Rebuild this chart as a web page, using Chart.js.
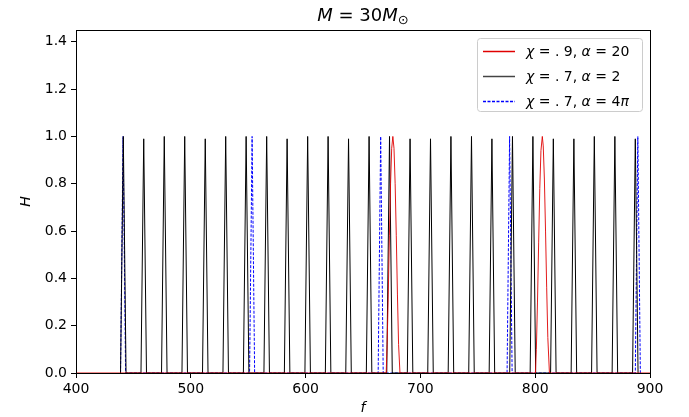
<!DOCTYPE html>
<html>
<head>
<meta charset="utf-8">
<script src="https://cdn.jsdelivr.net/npm/chart.js@4.4.0/dist/chart.umd.min.js"></script>
<style>
  html, body { margin: 0; padding: 0; background: #fff; }
  #wrap { width: 689px; height: 417px; }
</style>
</head>
<body>
<div id="wrap"><canvas id="resChart" width="689" height="417"></canvas></div>
<script>
// chi = .9, alpha = 20  (red)
const redF = [400, 670.2, 671, 672, 673, 674, 675, 676, 677, 678, 679, 680, 681, 682.2,
              800.2, 801, 802, 803, 804, 805, 806.2, 807, 808, 809, 810, 811, 812.4, 900];
const redH = [0, 0, 0.12, 0.33, 0.58, 0.8, 0.95, 1.0, 0.95, 0.8, 0.58, 0.33, 0.12, 0,
              0, 0.1, 0.3, 0.55, 0.78, 0.94, 1.0, 0.96, 0.82, 0.6, 0.36, 0.15, 0, 0];

// chi = .7, alpha = 2  (black)
const blackF = [
  438.8, 441.2, 443.6, 456.6, 459.0, 461.4, 474.5, 476.9, 479.3, 492.3, 494.7, 497.1,
  510.2, 512.6, 515.0, 528.0, 530.4, 532.8, 545.8, 548.2, 550.6, 563.7, 566.1, 568.5,
  581.5, 583.9, 586.3, 599.4, 601.8, 604.2, 617.2, 619.6, 622.0, 635.0, 637.4, 639.8,
  652.9, 655.3, 657.7, 670.7, 673.1, 675.5, 688.6, 691.0, 693.4, 706.4, 708.8, 711.2,
  724.2, 726.6, 729.0, 742.1, 744.5, 746.9, 759.9, 762.3, 764.7, 777.8, 780.2, 782.6,
  795.6, 798.0, 800.4, 813.4, 815.8, 818.2, 831.3, 833.7, 836.1, 849.1, 851.5, 853.9,
  867.0, 869.4, 871.8, 884.8, 887.2, 889.6
];
const blackH = [
  0, 1.0, 0, 0, 0.99, 0, 0, 1.0, 0, 0, 1.0, 0,
  0, 0.99, 0, 0, 1.0, 0, 0, 1.0, 0, 0, 1.0, 0,
  0, 0.99, 0, 0, 1.0, 0, 0, 1.0, 0, 0, 0.99, 0,
  0, 1.0, 0, 0, 1.0, 0, 0, 0.99, 0, 0, 0.99, 0,
  0, 1.0, 0, 0, 1.0, 0, 0, 0.99, 0, 0, 1.0, 0,
  0, 1.0, 0, 0, 0.99, 0, 0, 0.99, 0, 0, 1.0, 0,
  0, 1.0, 0, 0, 0.99, 0
];

// chi = .7, alpha = 4 pi  (blue dashed)
const blueF = [438.8, 441.0, 443.2, 551.2, 553.4, 555.6, 663.2, 665.4, 667.6,
               775.5, 777.7, 779.9, 887.2, 889.4, 891.6];
const blueH = [0, 1.0, 0, 0, 1.0, 0, 0, 1.0, 0, 0, 1.0, 0, 0, 1.0, 0];

const xTicks = [400, 500, 600, 700, 800, 900];
const yTicks = [0.0, 0.2, 0.4, 0.6, 0.8, 1.0, 1.2, 1.4];

function pts(xs, ys) {
    return xs.map((x, i) => ({ x: x, y: ys[i] }));
}

const FONT = "'DejaVu Sans', sans-serif";
const RED = '#e00000';

// draws a string made of [text, italic] parts, returns end x
function drawParts(ctx, parts, x, y, size) {
    parts.forEach(p => {
        ctx.font = (p[1] ? 'italic ' : '') + size + 'px ' + FONT;
        ctx.fillText(p[0], x, y);
        x += ctx.measureText(p[0]).width;
    });
    return x;
}
function partsWidth(ctx, parts, size) {
    let w = 0;
    parts.forEach(p => {
        ctx.font = (p[1] ? 'italic ' : '') + size + 'px ' + FONT;
        w += ctx.measureText(p[0]).width;
    });
    return w;
}

const legendItems = [
    { color: RED, dash: [], parts: [['χ', true], [' = . 9, ', false], ['α', true], [' = 20', false]] },
    { color: '#444444', dash: [], parts: [['χ', true], [' = . 7, ', false], ['α', true], [' = 2', false]] },
    { color: '#0000ff', dash: [3, 1.5], parts: [['χ', true], [' = . 7, ', false], ['α', true], [' = 4', false], ['π', true]] }
];
const legendRows = [51, 76, 101];

const decorPlugin = {
    id: 'decor',
    afterDraw(chart) {
        const c = chart.ctx;
        const a = chart.chartArea;
        c.save();
        // frame
        c.strokeStyle = '#000';
        c.lineWidth = 1;
        c.setLineDash([]);
        c.strokeRect(Math.round(a.left) + 0.5, Math.round(a.top) + 0.5,
                     Math.round(a.right - a.left), Math.round(a.bottom - a.top));

        // title  M = 30 M_sun
        c.fillStyle = '#000';
        c.textBaseline = 'alphabetic';
        const tSize = 18;
        const tParts = [['M', true], [' = 30', false], ['M', true]];
        c.font = '13px ' + FONT;
        const sunW = c.measureText('⊙').width;
        const tw = partsWidth(c, tParts, tSize) + sunW;
        let tx = (a.left + a.right) / 2 - tw / 2;
        tx = drawParts(c, tParts, tx, 21, tSize);
        c.font = '13px ' + FONT;
        c.fillText('⊙', tx, 24);

        // axis labels
        c.font = 'italic 14px ' + FONT;
        c.textAlign = 'center';
        c.fillText('f', (a.left + a.right) / 2, 412);
        c.save();
        c.translate(30, (a.top + a.bottom) / 2);
        c.rotate(-Math.PI / 2);
        c.fillText('H', 0, 0);
        c.restore();
        c.textAlign = 'left';

        // legend box
        const lx = 477, ly = 38, lw = 165, lh = 73;
        c.fillStyle = 'rgba(255,255,255,0.8)';
        c.strokeStyle = '#cccccc';
        c.lineWidth = 1;
        c.beginPath();
        c.roundRect(lx + 0.5, ly + 0.5, lw, lh, 3);
        c.fill();
        c.stroke();
        // legend entries
        legendItems.forEach((it, i) => {
            const y = legendRows[i];
            c.beginPath();
            c.strokeStyle = it.color;
            c.lineWidth = 1.5;
            c.setLineDash(it.dash);
            c.moveTo(483, y + 0.5);
            c.lineTo(515, y + 0.5);
            c.stroke();
            c.setLineDash([]);
            c.fillStyle = '#000';
            drawParts(c, it.parts, 526, y + 5, 14);
        });
        c.restore();
    }
};

const chartCtx = document.getElementById('resChart').getContext('2d');
const resChart = new Chart(chartCtx, {
    type: 'line',
    data: {
        datasets: [
            { label: 'red', data: pts(redF, redH), borderColor: RED, borderWidth: 0.9 },
            { label: 'black', data: pts(blackF, blackH), borderColor: 'black', borderWidth: 1 },
            { label: 'blue', data: pts(blueF, blueH), borderColor: 'blue', borderWidth: 1, borderDash: [3, 1.5] }
        ]
    },
    options: {
        responsive: false,
        animation: false,
        devicePixelRatio: 1,
        elements: { point: { radius: 0 }, line: { tension: 0 } },
        layout: { padding: { top: 30, right: 39, left: 0, bottom: 0 } },
        plugins: { legend: { display: false }, tooltip: { enabled: false }, title: { display: false } },
        scales: {
            x: {
                type: 'linear',
                min: 400,
                max: 900,
                afterBuildTicks: s => { s.ticks = xTicks.map(v => ({ value: v })); },
                afterFit: s => { s.height = 44; },
                grid: { drawOnChartArea: false, drawTicks: true, tickLength: 5, color: '#000' },
                border: { display: true, color: '#000' },
                ticks: { color: '#000', font: { family: FONT, size: 14 }, padding: 3, maxRotation: 0,
                         callback: v => String(v) }
            },
            y: {
                type: 'linear',
                min: 0,
                max: 1.45,
                afterBuildTicks: s => { s.ticks = yTicks.map(v => ({ value: v })); },
                afterFit: s => { s.width = 76; },
                grid: { drawOnChartArea: false, drawTicks: true, tickLength: 5, color: '#000' },
                border: { display: true, color: '#000' },
                ticks: { color: '#000', font: { family: FONT, size: 14 }, padding: 4,
                         callback: v => v.toFixed(1) }
            }
        }
    },
    plugins: [decorPlugin]
});
</script>
</body>
</html>
